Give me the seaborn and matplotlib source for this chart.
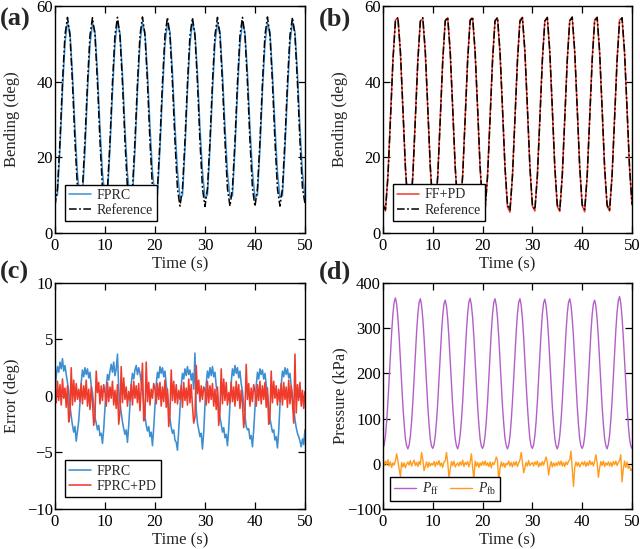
import numpy as np
import pandas as pd
import seaborn as sns
import matplotlib.pyplot as plt

# time grids (s): bending at 0.5 s, pressure and noisy signals at 0.25 s
time_c = np.linspace(0, 50, 101)
time_f = np.linspace(0, 50, 201)

# (a) bending, reference vs FPRC (deg)
ref_a = [
    7.2, 11.8, 24.3, 39.8, 52.3, 57.0, 52.1, 39.6, 24.2, 11.7,
    7.1, 11.9, 24.4, 39.7, 52.2, 56.9, 52.2, 39.7, 24.3, 11.8,
    7.2, 11.7, 24.2, 39.8, 52.3, 57.0, 52.1, 39.6, 24.3, 11.7,
    7.1, 11.8, 24.3, 39.7, 52.2, 57.1, 52.2, 39.7, 24.2, 11.8,
    7.0, 11.8, 24.4, 39.8, 52.3, 57.0, 52.2, 39.6, 24.3, 11.7,
    7.1, 11.7, 24.3, 39.7, 52.2, 56.9, 52.1, 39.7, 24.2, 11.8,
    7.0, 11.8, 24.3, 39.8, 52.3, 57.0, 52.2, 39.6, 24.3, 11.7,
    7.1, 11.9, 24.2, 39.7, 52.2, 57.0, 52.1, 39.7, 24.2, 11.8,
    7.0, 11.8, 24.3, 39.8, 52.3, 57.1, 52.2, 39.6, 24.3, 11.7,
    7.1, 11.8, 24.4, 39.7, 52.2, 57.0, 52.2, 39.7, 24.2, 11.9,
    7.8]
fprc_a = [
    9.4, 10.1, 22.3, 37.5, 50.2, 55.6, 53.1, 42.0, 27.6, 15.5,
    9.1, 9.8, 21.8, 37.2, 49.8, 55.4, 53.4, 42.3, 28.0, 15.9,
    9.3, 10.2, 22.5, 37.0, 50.0, 55.9, 52.8, 42.1, 27.5, 15.6,
    9.5, 9.7, 21.9, 37.4, 50.3, 55.5, 53.0, 42.4, 28.2, 16.1,
    9.6, 10.0, 22.2, 37.1, 49.9, 55.3, 53.2, 42.5, 28.3, 16.4,
    9.4, 9.9, 22.0, 37.5, 50.1, 55.6, 52.9, 42.2, 27.9, 16.3,
    9.2, 10.1, 22.4, 37.3, 50.2, 55.4, 53.3, 42.3, 28.1, 16.0,
    9.5, 9.8, 22.1, 37.2, 49.9, 55.7, 53.0, 42.4, 28.0, 16.2,
    9.3, 10.0, 22.3, 37.4, 50.0, 55.5, 53.1, 42.2, 28.2, 16.1,
    9.4, 9.9, 22.2, 37.1, 50.1, 55.8, 53.2, 42.3, 27.8, 16.0,
    9.6]

# (b) bending, reference vs FF+PD (deg)
ref_b = [
    7.5, 6.2, 15.0, 30.0, 45.5, 56.0, 57.0, 48.0, 33.0, 17.5,
    7.4, 6.1, 15.1, 30.1, 45.4, 55.9, 56.9, 48.1, 33.1, 17.6,
    7.5, 6.2, 15.0, 30.0, 45.5, 56.0, 57.0, 48.0, 33.0, 17.5,
    7.4, 6.1, 15.1, 30.1, 45.6, 56.1, 57.1, 48.1, 33.1, 17.6,
    7.5, 6.2, 15.0, 30.0, 45.5, 56.0, 57.0, 48.0, 33.0, 17.5,
    7.4, 6.1, 15.1, 30.1, 45.4, 55.9, 56.9, 48.1, 33.1, 17.6,
    7.5, 6.2, 15.0, 30.0, 45.5, 56.0, 57.0, 48.0, 33.0, 17.5,
    7.4, 6.1, 15.1, 30.1, 45.6, 56.1, 57.1, 48.1, 33.1, 17.6,
    7.5, 6.2, 15.0, 30.0, 45.5, 56.0, 57.0, 48.0, 33.0, 17.5,
    7.4, 6.1, 15.1, 30.1, 45.4, 55.9, 56.9, 48.1, 33.1, 17.6,
    7.6]
ffpd_b = [
    7.3, 5.8, 15.3, 30.4, 45.9, 56.3, 56.8, 47.6, 32.7, 17.3,
    7.1, 5.9, 15.4, 30.5, 45.8, 56.1, 56.6, 47.5, 32.6, 17.2,
    7.2, 6.1, 15.2, 30.3, 45.7, 56.2, 56.9, 47.7, 32.8, 17.4,
    7.0, 5.6, 15.3, 30.4, 45.9, 56.4, 56.8, 47.6, 32.7, 17.1,
    7.2, 5.7, 15.5, 30.6, 46.0, 56.2, 56.7, 47.4, 32.5, 17.2,
    6.9, 5.5, 15.2, 30.4, 45.8, 56.3, 57.0, 47.6, 32.7, 17.3,
    7.1, 5.8, 15.4, 30.5, 45.9, 56.1, 56.8, 47.5, 32.6, 17.2,
    7.0, 5.7, 15.3, 30.3, 45.7, 56.2, 56.9, 47.7, 32.8, 17.3,
    7.2, 5.6, 15.2, 30.4, 45.8, 56.4, 57.0, 47.6, 32.7, 17.1,
    7.1, 5.8, 15.4, 30.5, 45.9, 56.3, 56.8, 47.5, 32.6, 17.2,
    7.4]

# (c) tracking error (deg)
err_fprc = [
    0.2, 1.8, 2.6, 2.1, 3.0, 2.4, 3.3, 2.2, 2.7, 1.9, 1.2, 0.4, -0.9, -1.8, -2.6, -3.2, -2.7, -4.0, -3.1, -2.2,
    -0.6, 1.2, 2.3, 1.7, 2.5, 1.9, 2.4, 1.6, 2.1, 0.9, 0.3, -0.8, -1.9, -2.4, -3.0, -2.6, -3.5, -3.3, -4.2, -2.9,
    -1.0, 0.8, 1.9, 1.4, 2.2, 2.8, 2.1, 3.0, 1.8, 2.4, 3.7, 0.6, -0.6, -1.5, -2.3, -2.9, -3.4, -3.0, -4.1, -2.6,
    -0.7, 1.1, 2.0, 1.5, 2.3, 2.7, 1.9, 2.5, 2.0, 1.2, 0.5, -0.7, -1.8, -2.6, -3.1, -2.7, -3.6, -3.2, -4.4, -2.8,
    -0.9, 1.0, 2.1, 1.6, 2.6, 2.0, 2.5, 1.7, 2.2, 1.0, 0.2, -0.9, -2.0, -2.8, -3.3, -3.0, -3.9, -4.1, -4.8, -3.0,
    -1.2, 0.9, 2.0, 1.5, 2.4, 1.8, 2.6, 1.9, 2.3, 1.4, 2.0, 0.6, 3.8, -1.2, -2.4, -3.0, -3.6, -3.3, -4.7, -3.2,
    -0.8, 1.1, 2.2, 1.6, 2.5, 1.8, 2.6, 1.7, 2.1, 0.9, 0.3, -0.8, -1.9, -2.5, -3.2, -2.8, -3.7, -3.4, -4.4, -2.9,
    -0.7, 1.2, 2.4, 1.8, 2.7, 2.0, 2.5, 1.6, 2.2, 1.1, 0.4, -0.7, -1.8, -2.7, -3.0, -2.9, -3.8, -3.5, -4.5, -3.0,
    -1.0, 0.9, 2.1, 1.5, 2.4, 1.9, 2.3, 1.5, 2.0, 1.0, 0.2, -0.9, -2.0, -2.6, -3.2, -3.0, -3.9, -3.6, -4.6, -3.1,
    -0.8, 1.0, 2.2, 1.7, 2.5, 1.9, 2.4, 1.6, 2.0, 0.8, 0.1, -1.0, -2.1, -2.8, -3.3, -3.6, -4.0, -4.5, -3.8, -4.3,
    -3.0]
err_fprc_pd = [
    0.8, -0.6, 1.3, -0.4, 1.0, -0.8, 1.5, -0.2, 0.7, -1.0, 0.9, -2.3, -1.6, 2.5, -0.8, 1.4, -0.5, 1.1, -0.3, 0.6,
    -0.5, 1.1, -0.7, 0.9, -0.3, 1.4, -0.9, 0.6, -1.2, 0.8, -0.6, -2.6, -1.8, 2.2, 0.3, 1.2, -0.7, 0.9, -0.4, 1.0,
    0.3, -0.9, 1.2, -0.5, 0.8, -0.2, 1.3, -0.8, 0.5, -1.1, 1.0, -2.5, -1.4, 2.6, -0.6, 1.6, -0.3, 0.8, -0.9, 0.4,
    -0.4, 1.0, -0.8, 1.3, -0.2, 0.9, -0.6, 1.1, -1.3, 0.7, 2.9, -2.2, -1.7, 3.0, -0.5, 1.2, -0.8, 0.6, -0.2, 1.1,
    0.6, -0.7, 1.1, -0.3, 1.2, -0.9, 0.8, -0.5, 1.4, -1.0, 0.6, -2.7, -1.5, 2.3, -0.4, 1.3, -0.6, 1.0, -0.7, 0.5,
    -0.3, 0.9, -1.0, 1.2, -0.4, 0.7, -0.8, 1.5, -0.6, 1.0, -0.9, -2.4, -1.9, 2.7, 0.2, 1.4, -0.5, 0.9, -0.3, 0.8,
    0.5, -0.8, 1.3, -0.6, 0.9, -0.3, 1.1, -0.9, 0.6, -1.2, 0.8, -2.6, -1.3, 2.4, -0.7, 1.5, -0.4, 1.2, -0.8, 0.3,
    -0.6, 1.2, -0.5, 0.8, -0.9, 1.3, -0.4, 1.0, -1.1, 0.5, -0.7, -2.8, -1.6, 2.8, -0.3, 1.1, -0.9, 0.7, -0.5, 1.0,
    0.4, -0.9, 1.0, -0.4, 1.3, -0.7, 0.9, -0.3, 1.2, -1.0, 0.7, -2.5, -1.8, 2.2, -0.6, 1.3, -0.2, 0.9, -0.8, 0.6,
    -0.5, 1.1, -0.8, 1.2, -0.3, 0.8, -1.0, 1.4, -0.7, 0.9, -0.6, -2.4, 3.7, -1.5, 1.0, -0.4, 1.2, -0.9, 0.5, -1.1,
    0.4]

# (d) pressures (kPa)
p_ff = [
    34, 42, 62, 95, 138, 188, 242, 292, 332, 358, 367, 353, 322, 280, 228, 176, 128, 88, 56, 40,
    33, 41, 61, 94, 137, 187, 241, 291, 331, 357, 365, 351, 321, 279, 227, 175, 127, 87, 55, 39,
    34, 42, 62, 94, 136, 186, 240, 289, 329, 354, 362, 349, 320, 278, 228, 176, 128, 88, 56, 40,
    33, 43, 63, 96, 138, 189, 243, 293, 333, 358, 366, 352, 323, 281, 229, 177, 128, 87, 55, 39,
    34, 42, 62, 95, 137, 188, 242, 292, 332, 357, 365, 351, 322, 280, 228, 176, 127, 88, 56, 40,
    33, 41, 61, 95, 138, 188, 242, 292, 332, 357, 365, 351, 321, 279, 227, 175, 128, 87, 55, 39,
    34, 42, 62, 94, 137, 187, 241, 291, 331, 356, 364, 350, 322, 280, 228, 176, 127, 88, 56, 40,
    33, 42, 62, 95, 138, 188, 242, 292, 332, 357, 365, 351, 321, 280, 228, 176, 128, 87, 55, 39,
    34, 41, 61, 94, 136, 186, 240, 290, 330, 354, 362, 349, 320, 279, 227, 175, 127, 88, 56, 40,
    33, 43, 63, 97, 139, 190, 244, 295, 335, 361, 370, 355, 324, 281, 229, 177, 128, 88, 56, 40,
    34]
p_fb = [
    3, -4, 6, -2, 9, -5, 4, -8, 2, -3, 7, 22, 6, -12, -28, 3, -7, 2, -9, -1,
    4, -3, 7, -5, 2, 8, -4, 3, -6, 5, -2, 25, 9, -15, -6, 4, -8, 3, -5, 1,
    -3, 5, -6, 4, -2, 7, -5, 2, -8, 4, 6, 25, 3, -30, -12, 5, -4, 6, -7, -2,
    2, -5, 4, -3, 8, -6, 3, -2, 5, -7, 4, 22, -8, -35, 6, -5, 3, -8, 2, -4,
    5, -3, 6, -4, 2, -6, 4, -9, 3, -2, 5, 15, 7, -40, -10, 4, -6, 2, -8, 1,
    -2, 6, -5, 3, -7, 4, -3, 5, -6, 2, 8, 25, 4, -20, -8, 3, -5, 7, -4, 0,
    3, -5, 4, -2, 6, -7, 2, -4, 5, -3, 6, 15, 3, -25, -6, 5, -7, 2, -5, 2,
    -4, 5, -3, 6, -5, 3, -6, 4, -2, 5, 9, 28, -10, -50, -8, 4, -5, 3, -7, -1,
    4, -3, 5, -6, 3, -4, 7, -2, 4, -5, 6, 20, 2, -30, -9, 5, -4, 6, -6, 2,
    -3, 4, -5, 3, -6, 5, -2, 6, -4, 3, 7, 20, -40, -12, 6, -8, 4, -10, -5, -15,
    -12]

sns.set_style("ticks")
plt.rcParams.update({
    "font.family": ["Liberation Serif", "DejaVu Serif"],
    "mathtext.fontset": "custom",
    "mathtext.rm": "Liberation Serif",
    "mathtext.it": "Liberation Serif:italic",
    "xtick.direction": "in", "ytick.direction": "in",
    "xtick.top": True, "ytick.right": True,
    "xtick.major.size": 5, "ytick.major.size": 5,
    "xtick.major.width": 0.9, "ytick.major.width": 0.9,
    "axes.linewidth": 1.0, "axes.edgecolor": "black",
    "xtick.color": "black", "ytick.color": "black",
    "font.size": 12,
})

blue, red, purple, orange = "#3d8fd1", "#ef3b2c", "#b35fc7", "#ff9c1c"
dashdot = (0, (5, 1.6, 1.2, 1.6))

fig = plt.figure(figsize=(6.4, 5.49), dpi=100)
ax_a = fig.add_axes([0.0859, 0.5756, 0.3906, 0.4135])
ax_b = fig.add_axes([0.5984, 0.5756, 0.3891, 0.4135])
ax_c = fig.add_axes([0.0859, 0.0729, 0.3906, 0.4117])
ax_d = fig.add_axes([0.5984, 0.0729, 0.3891, 0.4117])

sns.lineplot(x=time_c, y=fprc_a, ax=ax_a, color=blue, lw=1.1, label="FPRC")
sns.lineplot(x=time_c, y=ref_a, ax=ax_a, color="black", lw=1.1, linestyle=dashdot, label="Reference")

sns.lineplot(x=time_c, y=ffpd_b, ax=ax_b, color=red, lw=1.1, label="FF+PD")
sns.lineplot(x=time_c, y=ref_b, ax=ax_b, color="black", lw=1.1, linestyle=dashdot, label="Reference")

sns.lineplot(x=time_f, y=err_fprc, ax=ax_c, color=blue, lw=1.15, label="FPRC")
sns.lineplot(x=time_f, y=err_fprc_pd, ax=ax_c, color=red, lw=1.15, label="FPRC+PD")

sns.lineplot(x=time_f, y=p_ff, ax=ax_d, color=purple, lw=1.0, label=r"$P_{\rm ff}$")
sns.lineplot(x=time_f, y=p_fb, ax=ax_d, color=orange, lw=1.0, label=r"$P_{\rm fb}$")

leg_kw = dict(loc="lower left", borderaxespad=0, frameon=True, fancybox=False,
              edgecolor="black", framealpha=1, fontsize=10, handlelength=1.6,
              handletextpad=0.4, borderpad=0.3, labelspacing=0.15)

for ax, ylab, ylim, yt, anchor, ncol in [
        (ax_a, "Bending (deg)", (0, 60), [0, 20, 40, 60], (0.04, 0.053), 1),
        (ax_b, "Bending (deg)", (0, 60), [0, 20, 40, 60], (0.039, 0.054), 1),
        (ax_c, "Error (deg)", (-10, 10), [-10, -5, 0, 5, 10], (0.04, 0.054), 1),
        (ax_d, "Pressure (kPa)", (-100, 400), [-100, 0, 100, 200, 300, 400], (0.028, 0.035), 2)]:
    ax.set_xlim(0, 50)
    ax.set_ylim(*ylim)
    ax.set_xticks([0, 10, 20, 30, 40, 50])
    ax.set_yticks(yt)
    ax.tick_params(axis="x", pad=3.5, labelsize=12)
    ax.tick_params(axis="y", pad=1.5, labelsize=12)
    ax.set_xlabel("Time (s)", fontsize=12, labelpad=1.5)
    ax.set_ylabel(ylab, fontsize=12)
    ax.yaxis.set_label_coords(-0.14, 0.5)
    leg = ax.legend(bbox_to_anchor=anchor, ncol=ncol, columnspacing=0.8, **leg_kw)
    leg.get_frame().set_linewidth(1.0)
    for s in ax.spines.values():
        s.set_visible(True)

for x, y, lab in [(0.0, 0.9645, "(a)"), (0.499, 0.9645, "(b)"),
                  (0.0, 0.5046, "(c)"), (0.499, 0.5046, "(d)")]:
    fig.text(x, y, lab, fontsize=19, fontweight="bold", ha="left", va="center")

fig.savefig("out.png", dpi=100)
